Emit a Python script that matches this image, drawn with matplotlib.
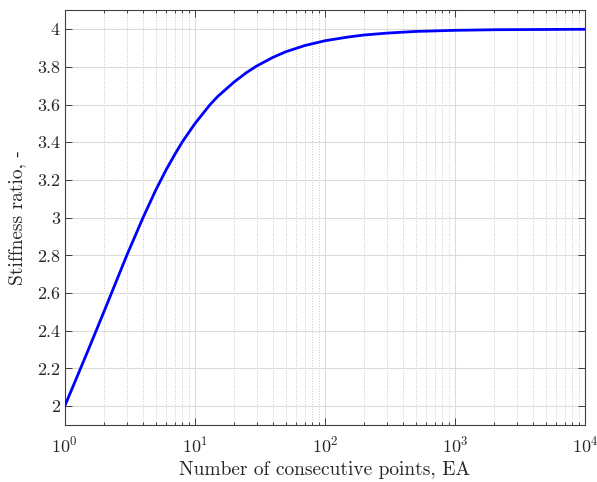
import matplotlib
matplotlib.use("Agg")
import matplotlib.pyplot as plt
from matplotlib.ticker import LogLocator, FixedLocator, NullFormatter

plt.rcParams['font.family'] = 'serif'
plt.rcParams['font.serif'] = ['cmr10']
plt.rcParams['mathtext.fontset'] = 'cm'
plt.rcParams['axes.formatter.use_mathtext'] = True

# Data
points = [1, 1.2, 1.5, 2, 2.5, 3, 4, 5, 6, 7, 8, 10, 13, 15, 20, 25, 30, 40, 50, 70,
          100, 150, 200, 300, 500, 1000, 2000, 10000]
ratio = [2.0, 2.13, 2.29, 2.50, 2.665, 2.80, 3.00, 3.145, 3.252, 3.334, 3.401,
         3.498, 3.597, 3.643, 3.719, 3.770, 3.805, 3.851, 3.880, 3.913, 3.9385,
         3.958, 3.969, 3.979, 3.988, 3.9938, 3.997, 3.9994]
yticks = [2, 2.2, 2.4, 2.6, 2.8, 3, 3.2, 3.4, 3.6, 3.8, 4]
ytick_labels = ['2', '2.2', '2.4', '2.6', '2.8', '3', '3.2', '3.4', '3.6', '3.8', '4']

fig = plt.figure(figsize=(5.97, 4.82), dpi=100)
ax = fig.add_axes([0.1084, 0.1183, 0.8716, 0.8603])

ax.plot(points, ratio, color='#0000ff', lw=2.0, zorder=3, solid_joinstyle='round')

ax.set_xscale('log')
ax.set_xlim(1, 1e4)
ax.set_ylim(1.9, 4.1)
ax.yaxis.set_major_locator(FixedLocator(yticks))
ax.set_yticklabels(ytick_labels)
ax.xaxis.set_major_locator(LogLocator(base=10, numticks=10))
ax.xaxis.set_minor_locator(LogLocator(base=10, subs=range(2, 10), numticks=50))
ax.xaxis.set_minor_formatter(NullFormatter())

ax.grid(True, which='major', color='#dcdcdc', lw=0.8, ls='-')
ax.grid(True, which='minor', axis='x', color='#c8c8c8', lw=0.7, ls=':')
ax.set_axisbelow(True)

dark = '#262626'
for s in ax.spines.values():
    s.set_color('#404040')
    s.set_linewidth(0.8)
ax.tick_params(which='both', direction='in', top=True, right=True, colors=dark,
               labelsize=13, width=0.6)
ax.tick_params(which='major', length=5)
ax.tick_params(which='minor', length=2.5)
ax.tick_params(axis='x', pad=7)

ax.set_xlabel('Number of consecutive points, EA', fontsize=14, color=dark, labelpad=4)
ax.set_ylabel('Stiffness ratio, -', fontsize=14, color=dark, labelpad=8)

fig.savefig('out.png', dpi=100)
